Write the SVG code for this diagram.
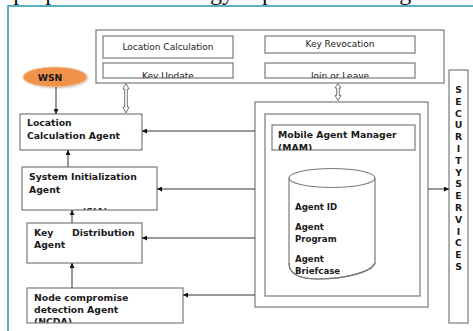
<svg xmlns="http://www.w3.org/2000/svg" width="473" height="331" viewBox="0 0 473 331">
<style>
.box{fill:#fff;stroke:#7a7a7a;stroke-width:1.2}
.ln{fill:none;stroke:#333;stroke-width:1}
.t{font-family:"DejaVu Sans","Liberation Sans",sans-serif;font-size:9px;fill:#222}
.b{font-family:"DejaVu Sans","Liberation Sans",sans-serif;font-size:9.3px;font-weight:bold;fill:#1a1a1a}
.c{font-size:8.6px}
.dbl{fill:#fff;stroke:#666;stroke-width:0.9}
</style>
<defs>
<marker id="ah" viewBox="0 0 6 6" refX="6" refY="3" markerWidth="5" markerHeight="5" orient="auto" markerUnits="userSpaceOnUse">
<path d="M0,0 L6,3 L0,6 z" fill="#111"/>
</marker>
<clipPath id="cKU"><rect x="103" y="63" width="130" height="15"/></clipPath>
<clipPath id="cJL"><rect x="265" y="63" width="150" height="15"/></clipPath>
<clipPath id="cMAM"><rect x="272" y="125" width="143" height="25"/></clipPath>
<clipPath id="cSIA"><rect x="22" y="167" width="135" height="42.5"/></clipPath>
<clipPath id="cNC"><rect x="27" y="288" width="156" height="34.5"/></clipPath>
<filter id="sh" x="-20%" y="-20%" width="140%" height="160%"><feGaussianBlur stdDeviation="1"/></filter>
</defs>
<rect width="473" height="331" fill="#fff"/>
<text x="-30" y="-0.5" font-family="Liberation Serif,serif" font-size="24" fill="#111">The proposed methodology is presented in figure 2.</text>
<rect x="8" y="6" width="480" height="340" fill="none" stroke="#5aafc8" stroke-width="2"/>

<g id="top-services">
<rect class="box" x="96" y="30" width="348" height="53"/>
<g id="location-calculation"><rect class="box" x="103" y="36" width="130" height="22"/><text class="t" x="168" y="50" text-anchor="middle">Location Calculation</text></g>
<g id="key-revocation"><rect class="box" x="265" y="36" width="150" height="17"/><text class="t" x="340" y="47" text-anchor="middle">Key Revocation</text></g>
<g id="key-update"><rect class="box" x="103" y="63" width="130" height="15"/><text class="t" x="168" y="78.5" text-anchor="middle" clip-path="url(#cKU)">Key Update</text></g>
<g id="join-leave"><rect class="box" x="265" y="63" width="150" height="15"/><text class="t" x="340" y="78.5" text-anchor="middle" clip-path="url(#cJL)">Join or Leave</text></g>
</g>

<g id="wsn">
<ellipse cx="56" cy="78" rx="32" ry="10" fill="#bbb" filter="url(#sh)"/>
<ellipse cx="55" cy="77" rx="32" ry="10" fill="#f0924a" stroke="#f6c9a2" stroke-width="1"/>
<text class="b" x="50" y="80.5" text-anchor="middle" font-size="9">WSN</text>
</g>

<g id="lca">
<rect class="box" x="20" y="114" width="122" height="36"/>
<text class="b" x="27" y="126">Location</text>
<text class="b" x="27" y="138.5">Calculation Agent</text>
</g>

<g id="sia">
<rect class="box" x="22" y="167" width="135" height="43"/>
<text class="b" x="29" y="179.5" font-size="9.5">System Initialization</text>
<text class="b" x="29" y="192.5" font-size="9.5">Agent</text>
<text class="b" x="82" y="215" clip-path="url(#cSIA)">(SIA)</text>
</g>

<g id="kda">
<rect class="box" x="27" y="223" width="115" height="40"/>
<text class="b" x="34" y="235.5">Key</text>
<text class="b" x="72" y="235.5">Distribution</text>
<text class="b" x="34" y="247.5">Agent</text>
</g>

<g id="ncda">
<rect class="box" x="27" y="288" width="156" height="35"/>
<text class="b" x="34" y="300.5" font-size="9.7">Node compromise</text>
<text class="b" x="34" y="312.5" font-size="9.7">detection Agent</text>
<text class="b" x="34" y="325" font-size="9.7" clip-path="url(#cNC)">(NCDA)</text>
</g>

<g id="mam">
<rect class="box" x="255" y="102" width="173" height="205"/>
<rect class="box" x="265" y="114" width="155" height="182"/>
<rect class="box" x="272" y="125" width="143" height="25"/>
<text class="b" x="278" y="137.5" font-size="9.7">Mobile Agent Manager</text>
<text class="b" x="278" y="150.5" font-size="9.7" clip-path="url(#cMAM)">(MAM)</text>
<path class="box" d="M289,178 L289,263 C289,275 300,279 318,279 C345,279 372,272 375,263 L375,178"/>
<ellipse class="box" cx="332" cy="178" rx="43" ry="9.5"/>
<text class="b c" x="295" y="210">Agent ID</text>
<text class="b c" x="295" y="230">Agent</text>
<text class="b c" x="295" y="242">Program</text>
<text class="b c" x="295" y="262">Agent</text>
<text class="b c" x="295" y="274">Briefcase</text>
<path d="M289,263 C289,275 300,279 318,279 C345,279 372,272 375,263" fill="none" stroke="#7a7a7a" stroke-width="1.2"/>
</g>

<g id="security-services">
<rect class="box" x="449" y="70" width="19" height="253"/>
<g class="b" text-anchor="middle" font-size="8">
<text x="458.5" y="93">S</text><text x="458.5" y="104.8">E</text><text x="458.5" y="116.6">C</text><text x="458.5" y="128.4">U</text>
<text x="458.5" y="140.2">R</text><text x="458.5" y="152">I</text><text x="458.5" y="163.8">T</text><text x="458.5" y="175.6">Y</text>
<text x="458.5" y="187.4">S</text><text x="458.5" y="199.2">E</text><text x="458.5" y="211">R</text><text x="458.5" y="222.8">V</text>
<text x="458.5" y="234.6">I</text><text x="458.5" y="246.4">C</text><text x="458.5" y="258.2">E</text><text x="458.5" y="270">S</text>
</g>
</g>

<g id="connectors">
<line class="ln" x1="56" y1="87" x2="56" y2="114" marker-end="url(#ah)"/>
<line class="ln" x1="255" y1="131" x2="142" y2="131" marker-end="url(#ah)"/>
<line class="ln" x1="255" y1="189" x2="157" y2="189" marker-end="url(#ah)"/>
<line class="ln" x1="255" y1="238" x2="142" y2="238" marker-end="url(#ah)"/>
<line class="ln" x1="255" y1="295" x2="183" y2="295" marker-end="url(#ah)"/>
<line class="ln" x1="68" y1="167" x2="68" y2="150" marker-end="url(#ah)"/>
<line class="ln" x1="72" y1="223" x2="72" y2="210" marker-end="url(#ah)"/>
<line class="ln" x1="72" y1="288" x2="72" y2="263" marker-end="url(#ah)"/>
<line class="ln" x1="428" y1="189" x2="449" y2="189" marker-end="url(#ah)"/>
<path class="dbl" d="M126,83.5 L129,89 L127.3,89 L127.3,107 L129,107 L126,113 L123,107 L124.7,107 L124.7,89 L123,89 z"/>
<path class="dbl" d="M338,83.5 L341,88 L339.3,88 L339.3,95.5 L341,95.5 L338,100.5 L335,95.5 L336.7,95.5 L336.7,88 L335,88 z"/>
</g>
</svg>
